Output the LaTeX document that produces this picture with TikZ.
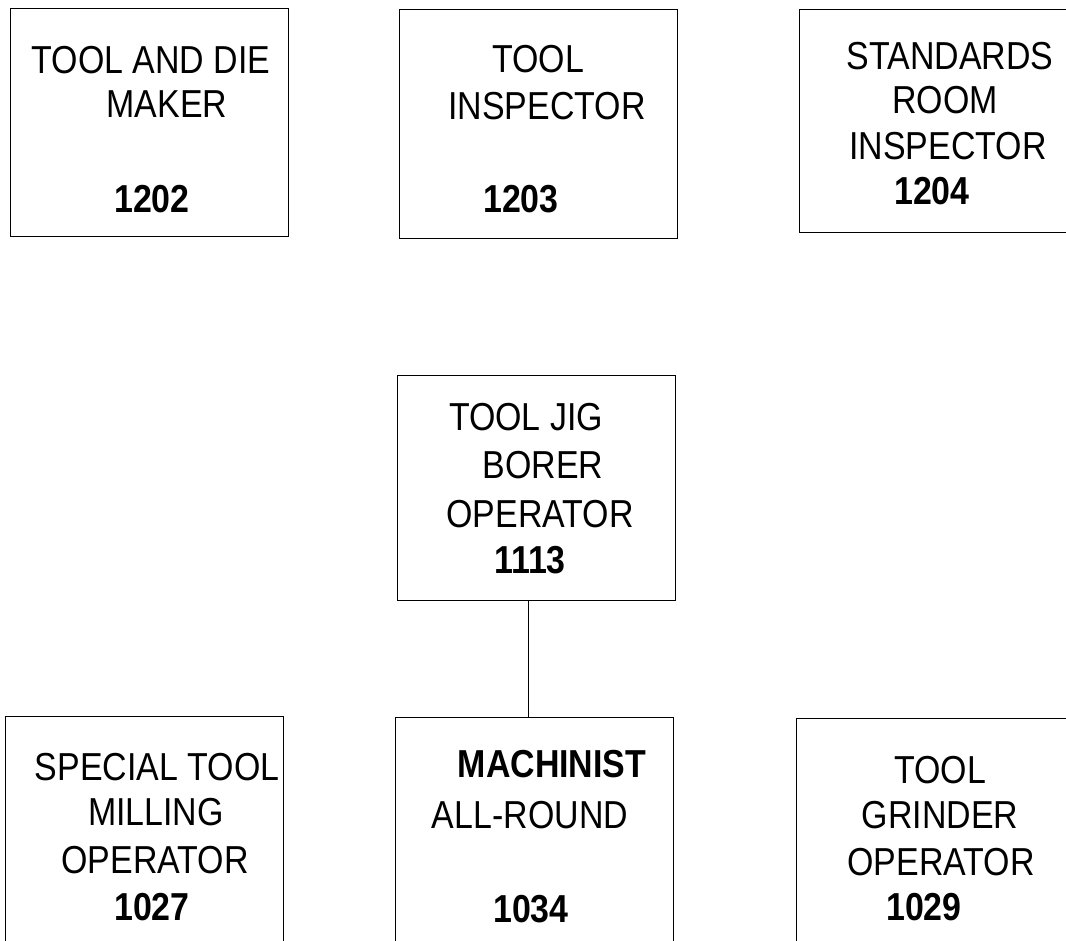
\documentclass[tikz,border=0pt]{standalone}
\usepackage{fontspec}
\setmainfont[FakeStretch=0.87]{Liberation Sans}

\begin{document}
\begin{tikzpicture}[x=1pt, y=-1pt,
	box/.style={draw, line width=1.4pt, rectangle, inner sep=0pt, anchor=north west},
	lbl/.style={anchor=base, inner sep=0pt, font=\fontsize{39}{46}\selectfont},
	num/.style={lbl, font=\fontsize{39}{46}\selectfont\bfseries}]
	\clip (0,0) rectangle (1066,941);
	% top row
	\node[box, minimum width=278pt, minimum height=228pt] (diemaker) at (10,8) {};
	\node[lbl] (diemakerA) at (151,74) {TOOL AND DIE};
	\node[lbl] (diemakerB) at (167,118) {MAKER};
	\node[num] (diemakerN) at (152,213) {1202};
	\node[box, minimum width=278pt, minimum height=229pt] (toolinsp) at (399,9) {};
	\node[lbl] (toolinspA) at (538,73) {TOOL};
	\node[lbl] (toolinspB) at (547,120) {INSPECTOR};
	\node[num] (toolinspN) at (521,213) {1203};
	\node[box, minimum width=290pt, minimum height=223pt] (stdroom) at (799,9) {};
	\node[lbl] (stdroomA) at (950,70) {STANDARDS};
	\node[lbl] (stdroomB) at (945,114) {ROOM};
	\node[lbl] (stdroomC) at (948,160) {INSPECTOR};
	\node[num] (stdroomN) at (932,205) {1204};
	% middle
	\node[box, minimum width=278pt, minimum height=225pt] (jigborer) at (397,375) {};
	\node[lbl] (jigborerA) at (526,430) {TOOL JIG};
	\node[lbl] (jigborerB) at (543,478) {BORER};
	\node[lbl] (jigborerC) at (540,527) {OPERATOR};
	\node[num] (jigborerN) at (530,573) {1113};
	% bottom row
	\node[box, minimum width=278pt, minimum height=250pt] (milling) at (5,716) {};
	\node[lbl] (millingA) at (157,780) {SPECIAL TOOL};
	\node[lbl] (millingB) at (156,825) {MILLING};
	\node[lbl] (millingC) at (155,873) {OPERATOR};
	\node[num] (millingN) at (152,920) {1027};
	\node[box, minimum width=278pt, minimum height=250pt] (machinist) at (395,717) {};
	\node[num] (machinistA) at (552,777) {MACHINIST};
	\node[lbl] (machinistB) at (530,828) {ALL-ROUND};
	\node[num] (machinistN) at (531,922) {1034};
	\node[box, minimum width=290pt, minimum height=250pt] (grinder) at (796,718) {};
	\node[lbl] (grinderA) at (940,783) {TOOL};
	\node[lbl] (grinderB) at (940,828) {GRINDER};
	\node[lbl] (grinderC) at (941,875) {OPERATOR};
	\node[num] (grinderN) at (924,920) {1029};
	% link
	\draw[line width=1.4pt] ([xshift=-8pt]jigborer.south) -- ([xshift=-8pt]jigborer.south |- machinist.north);
\end{tikzpicture}
\end{document}
